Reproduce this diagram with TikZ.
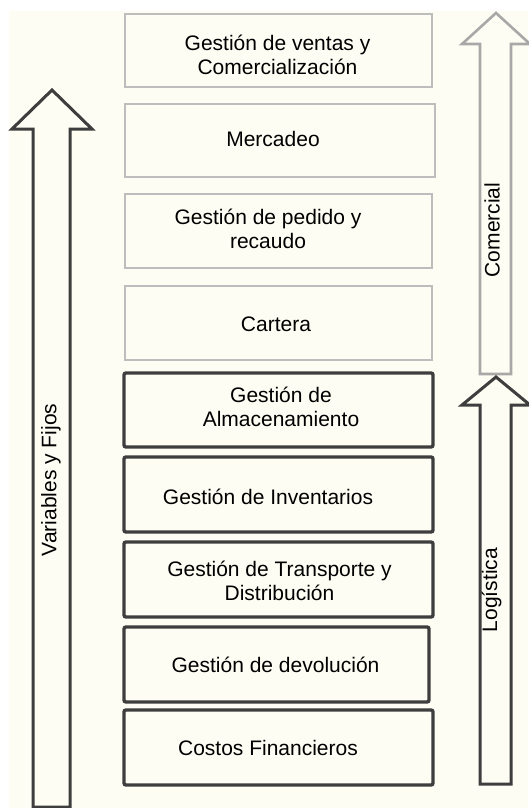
\documentclass[tikz,border=0pt]{standalone}
\usepackage{fontspec}
\setmainfont{Liberation Sans}
\definecolor{cream}{HTML}{FDFDF3}
\definecolor{darkline}{HTML}{3E3E3E}
\definecolor{lightline}{HTML}{BDBDBD}
\definecolor{grayarrow}{HTML}{A8A8A8}
\begin{document}
\begin{tikzpicture}[x=1pt,y=-1pt,
  lbox/.style={draw=lightline,line width=1.2pt,fill=cream,inner sep=0pt},
  dbox/.style={draw=darkline,line width=3.4pt,fill=cream,rounded corners=2pt,inner sep=0pt},
  txt/.style={font=\fontsize{21}{24}\selectfont,align=center,inner sep=0pt,text=black},
  darrow/.style={draw=darkline,line width=3pt,fill=cream,line join=miter},
  garrow/.style={draw=grayarrow,line width=2.6pt,fill=cream,line join=miter}]
\useasboundingbox (0,0) rectangle (528,808);
\fill[cream] (9,11) rectangle (528,808);
% left arrow
\draw[darrow] (52,90) -- (92,129) -- (70,129) -- (70,807) -- (33,807) -- (33,129) -- (12,129) -- cycle;
% Comercial arrow
\draw[garrow] (496,13) -- (530,44) -- (511,44) -- (511,374) -- (480,374) -- (480,44) -- (462,44) -- cycle;
% Logistica arrow
\draw[darrow] (496,377) -- (530,405) -- (511,405) -- (511,784) -- (480,784) -- (480,405) -- (462,405) -- cycle;
% boxes
\node[lbox,minimum width=307pt,minimum height=73pt] (b1) at (278.5,50.5) {};
\node[lbox,minimum width=310pt,minimum height=73pt] (b2) at (280,140.5) {};
\node[lbox,minimum width=307pt,minimum height=74pt] (b3) at (278.5,231) {};
\node[lbox,minimum width=307pt,minimum height=74pt] (b4) at (278.5,323) {};
\node[dbox,minimum width=309pt,minimum height=74pt] (b5) at (278.5,410) {};
\node[dbox,minimum width=309pt,minimum height=75pt] (b6) at (278.5,494.5) {};
\node[dbox,minimum width=309pt,minimum height=75pt] (b7) at (278.5,579.5) {};
\node[dbox,minimum width=305pt,minimum height=75pt] (b8) at (276.5,664.5) {};
\node[dbox,minimum width=309pt,minimum height=75pt] (b9) at (278.5,747.5) {};
% texts
\node[txt] (t1) at (277.5,55) {Gestión de ventas y\\Comercialización};
\node[txt] (t2) at (273,139) {Mercadeo};
\node[txt] (t3) at (268,229) {Gestión de pedido y\\recaudo};
\node[txt] (t4) at (276,324) {Cartera};
\node[txt] (t5) at (281,407) {Gestión de\\Almacenamiento};
\node[txt] (t6) at (268,497) {Gestión de Inventarios};
\node[txt] (t7) at (279.5,581) {Gestión de Transporte y\\Distribución};
\node[txt] (t8) at (275.5,665) {Gestión de devolución};
\node[txt] (t9) at (268,748) {Costos Financieros};
% rotated labels
\node[txt,rotate=90] (vf) at (51,480) {Variables y Fijos};
\node[txt,rotate=90] (com) at (492,230) {Comercial};
\node[txt,rotate=90] (log) at (491.5,590) {Logística};
\end{tikzpicture}
\end{document}
